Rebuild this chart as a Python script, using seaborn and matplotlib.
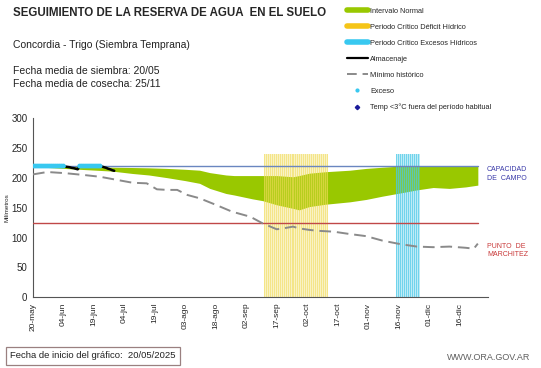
import matplotlib
matplotlib.use('Agg')
import matplotlib.pyplot as plt
import numpy as np
import pandas as pd
import seaborn as sns
from matplotlib.lines import Line2D

# Datos (días desde el 20/05)
TICK_DAYS = [0, 15, 30, 45, 60, 75, 90, 105, 120, 135, 150, 165, 180, 195, 210]
TICK_LABELS = ['20-may', '04-jun', '19-jun', '04-jul', '19-jul', '03-ago', '18-ago',
               '02-sep', '17-sep', '02-oct', '17-oct', '01-nov', '16-nov', '01-dic', '16-dic']

CAPACIDAD_CAMPO = 220
PUNTO_MARCHITEZ = 125
LAST_DAY = 219

# Intervalo normal
band_days = [0, 10, 23, 39, 49, 57, 66, 75, 82, 87, 95, 99, 108, 113, 120, 128, 131,
             136, 144, 156, 164, 172, 181, 189, 197, 205, 213, 219]
band_low = [219, 217, 214.5, 211.5, 207.5, 205, 200.5, 195.5, 191, 182.5, 174, 171.5,
            165, 162, 155, 149, 146.5, 152, 156, 160, 164, 169.5, 175, 180, 184, 182.5, 185, 188]
band_high = [220, 220, 219, 218, 217.5, 217, 216, 214.5, 213, 209, 205, 204, 204, 204,
             204, 202, 204, 208, 210.5, 213, 216, 218, 220, 220, 220, 220, 220, 220]

# Mínimo histórico
min_days = [0, 7, 16, 25, 33, 41, 49, 56, 61, 66, 71, 76, 82, 90, 98, 107, 113, 120,
            124, 128, 131, 136, 140, 148, 156, 164, 172, 181, 189, 197, 205, 213, 217, 219]
min_vals = [206, 210, 208, 205, 202, 197, 192, 191, 181, 180, 180, 171.5, 166, 155,
            143.5, 135, 124, 114, 116, 118.5, 115.5, 113, 111.5, 110, 106, 102.5, 95,
            89, 85, 84, 85, 83, 81.5, 90]

# Almacenaje
alm_days = list(range(0, 41))
alm_vals = ([220] * 16 + [219, 218.5, 218, 217, 216.5, 215.5, 214.5] + [220] * 11 +
            [219, 218, 217, 215.5, 214.5, 213, 212])

# Excesos
exc_days = list(range(0, 16)) + list(range(23, 34))
exc_vals = [220] * len(exc_days)

# Periodos críticos
deficit_period = (114, 145)
excesos_period = (179, 190)
period_top = 240

GREEN = '#99c800'
YELLOW = '#f0dc58'
CYAN = '#48c8e8'

sns.set_style('white')
plt.rcParams['font.family'] = ['Liberation Sans', 'DejaVu Sans']

fig = plt.figure(figsize=(5.41, 3.68), dpi=100)
ax = fig.add_axes([33 / 541, 1 - 297.3 / 368, (488 - 33) / 541, (297.3 - 118.3) / 368])

ax.fill_between(band_days, band_low, band_high, color=GREEN, lw=0, zorder=1)

# franjas de los periodos críticos
for (p0, p1), col, a_base, a_line in [(deficit_period, YELLOW, 0.35, 0.55),
                                      (excesos_period, CYAN, 0.35, 0.65)]:
    ax.fill_between([p0 - 0.3, p1 + 0.3], 0, period_top, color=col, alpha=a_base,
                    lw=0, zorder=2)
    ax.bar(np.arange(p0, p1 + 0.5, 1.0), period_top, width=0.5, bottom=0,
           color=col, alpha=a_line, lw=0, zorder=2)

ax.plot([0, LAST_DAY], [CAPACIDAD_CAMPO] * 2, color='#6a86c0', lw=1.0, zorder=3)
ax.plot([0, LAST_DAY], [PUNTO_MARCHITEZ] * 2, color='#c04848', lw=1.0, zorder=3)

df_min = pd.DataFrame({'dia': min_days, 'valor': min_vals})
sns.lineplot(data=df_min, x='dia', y='valor', ax=ax, color='#8a8a8a', lw=1.4,
             linestyle=(0, (6, 3)), zorder=4)

df_alm = pd.DataFrame({'dia': alm_days, 'valor': alm_vals})
sns.lineplot(data=df_alm, x='dia', y='valor', ax=ax, color='black', lw=1.8, zorder=5)

df_exc = pd.DataFrame({'dia': exc_days, 'valor': exc_vals})
sns.scatterplot(data=df_exc, x='dia', y='valor', ax=ax, color='#38c8f0', s=12,
                edgecolor='none', zorder=6)

ax.set_xlim(0, 224)
ax.set_ylim(0, 300)
ax.set_yticks(range(0, 301, 50))
ax.set_xticks(TICK_DAYS)
ax.set_xticklabels(TICK_LABELS, rotation=90, fontsize=6)
ax.tick_params(axis='y', labelsize=7, length=3, width=0.6, color='#555555', pad=1)
ax.tick_params(axis='x', length=3, width=0.6, color='#555555', pad=1)
ax.set_xlabel('')
ax.set_ylabel('Milímetros', fontsize=4.5, labelpad=1)
for s in ['top', 'right']:
    ax.spines[s].set_visible(False)
for s in ['left', 'bottom']:
    ax.spines[s].set_color('#555555')
    ax.spines[s].set_linewidth(0.8)

# Etiquetas a la derecha
fig.text(487 / 541, 1 - 174 / 368, 'CAPACIDAD\nDE  CAMPO', color='#3838a8', fontsize=5,
         va='center', ha='left', linespacing=1.25)
fig.text(487 / 541, 1 - 250.5 / 368, 'PUNTO  DE\nMARCHITEZ', color='#c83838', fontsize=5,
         va='center', ha='left', linespacing=1.25)

# Encabezado
fig.text(13 / 541, 1 - 13.5 / 368, 'SEGUIMIENTO DE LA RESERVA DE AGUA  EN EL SUELO',
         fontsize=8.3, fontweight='bold', va='center', ha='left')
fig.text(13 / 541, 1 - 45 / 368, 'Concordia - Trigo (Siembra Temprana)',
         fontsize=7.5, va='center', ha='left', color='#222222')
fig.text(13 / 541, 1 - 71 / 368, 'Fecha media de siembra: 20/05',
         fontsize=7.5, va='center', ha='left', color='#222222')
fig.text(13 / 541, 1 - 84 / 368, 'Fecha media de cosecha: 25/11',
         fontsize=7.5, va='center', ha='left', color='#222222')

# Leyenda
handles = [
    Line2D([], [], color=GREEN, lw=4),
    Line2D([], [], color='#f5c518', lw=4),
    Line2D([], [], color='#38c8f0', lw=4),
    Line2D([], [], color='black', lw=1.6),
    Line2D([], [], color='#8a8a8a', lw=1.4, linestyle=(0, (5, 3))),
    Line2D([], [], color='#38c8f0', marker='o', markersize=2, lw=0),
    Line2D([], [], color='#1a1a9a', marker='D', markersize=2.2, lw=0),
]
labels = ['Intervalo Normal', 'Periodo Crítico Déficit Hídrico',
          'Periodo Crítico Excesos Hídricos', 'Almacenaje', 'Mínimo histórico',
          'Exceso', 'Temp <3°C fuera del período habitual']
fig.legend(handles, labels, loc='upper left', bbox_to_anchor=(346.7 / 541, 1 - 7.5 / 368),
           frameon=False, fontsize=5.3, handlelength=2.9, handletextpad=0.3,
           labelspacing=1.2, borderpad=0, borderaxespad=0)

# Pie
fig.text(10 / 541, 1 - 356 / 368, 'Fecha de inicio del gráfico:  20/05/2025',
         fontsize=6.8, va='center', ha='left', color='#222222',
         bbox=dict(boxstyle='square,pad=0.45', fc='white', ec='#9a8080', lw=0.9))
fig.text(530 / 541, 1 - 358 / 368, 'WWW.ORA.GOV.AR', fontsize=6.5, va='center',
         ha='right', color='#606060')

fig.savefig('out.png', dpi=100)
